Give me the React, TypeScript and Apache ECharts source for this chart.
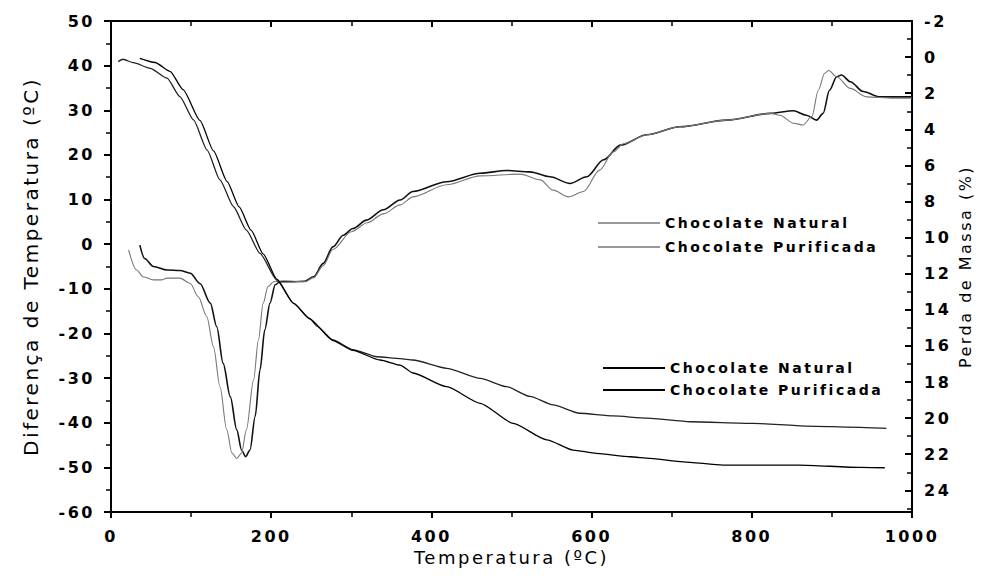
import React, { useEffect, useRef } from "react";
import * as echarts from "echarts";

// Temperature (°C) vs DTA signal (left axis, °C)
const dtaNatural: number[][] = [
  [36, -0.2], [42, -3.2], [53, -5.0], [70, -5.8], [86, -5.9], [99, -6.5], [111, -8.8],
  [124, -13.2], [132, -18.5], [140, -26.7], [149, -34.2], [157, -41.6], [163, -46.1],
  [168, -47.6], [173.5, -46.1], [180, -38.6], [186, -28.2], [192, -19.2], [198.5, -13.2],
  [205, -9.1], [211, -8.4], [227, -8.4], [242, -8.3], [253, -7.3], [265, -4.3], [277, -0.6],
  [290, 2.0], [302, 3.5], [319, 5.4], [340, 7.7], [361, 9.9], [377, 11.8], [419, 14.0],
  [461, 15.9], [494, 16.5], [523, 16.2], [548, 15.1], [573, 13.6], [594, 15.1], [615, 18.9],
  [636, 22.2], [669, 24.5], [710, 26.3], [769, 27.8], [823, 29.3], [852, 29.9], [868, 28.9],
  [881, 27.8], [889, 29.3], [897, 34.5], [906, 37.5], [912, 37.9], [923, 36.4], [939, 34.2],
  [960, 33.0], [1000, 33.0],
];

const dtaPurificada: number[][] = [
  [22, -1.3], [32, -5.8], [40, -7.3], [53, -8.0], [63, -8.0], [70, -7.6], [86, -7.6],
  [99, -8.8], [109, -11.8], [119.5, -16.2], [128, -23], [136, -31.9], [144.5, -41.6],
  [151, -46.8], [157, -48], [163, -46.8], [169, -41.6], [178, -30.4], [184, -21.5],
  [190, -13.2], [196, -9.5], [203, -8.4], [215, -8.2], [242, -8.4], [253, -7.5], [265, -4.8],
  [277, -1.2], [300, 2.8], [320, 4.8], [340, 6.8], [361, 8.8], [377, 10.6], [419, 13.3],
  [461, 15.3], [511, 15.7], [536, 14.4], [552, 12.1], [571, 10.6], [590, 11.8], [610, 16.6],
  [627, 20.7], [640, 22.5], [669, 24.5], [710, 26.3], [769, 27.8], [823, 29.3], [835, 28.9],
  [852, 27.1], [864, 26.7], [875, 28.6], [883, 34.5], [891, 38.3], [896, 38.9], [906, 37.5],
  [923, 34.9], [943, 33.0], [977, 32.7], [1000, 32.7],
];

// Temperature (°C) vs mass loss (right axis, %)
const tgNatural: number[][] = [
  [9, 0.25], [15, 0.12], [28, 0.31], [49, 0.62], [70, 1.17], [86, 2.19], [103, 3.48],
  [120, 5.15], [136, 6.8], [153, 8.29], [169, 9.58], [186, 10.87], [207, 12.35], [228, 13.64],
  [248, 14.47], [257, 14.9], [277, 15.67], [302, 16.2], [332, 16.6], [361, 16.7], [377, 16.78],
  [419, 17.24], [461, 17.8], [494, 18.26], [523, 18.8], [552, 19.27], [585, 19.73], [627, 19.88],
  [669, 20.0], [723, 20.2], [802, 20.29], [868, 20.44], [935, 20.51], [968, 20.57],
];

const tgPurificada: number[][] = [
  [36, 0.07], [55, 0.3], [74, 0.8], [90, 1.8], [111, 3.5], [128, 5.2], [145, 6.9], [160, 8.3],
  [175, 9.6], [190, 10.9], [207, 12.3], [228, 13.64], [248, 14.5], [277, 15.7], [302, 16.25],
  [336, 16.78], [361, 17.06], [377, 17.5], [419, 18.26], [461, 19.18], [502, 20.29], [544, 21.2],
  [577, 21.77], [606, 21.95], [648, 22.14], [673, 22.23], [714, 22.42], [764, 22.6], [860, 22.6],
  [935, 22.73], [966, 22.75],
];

const dtaLegendNames = ["DTA Chocolate Natural", "DTA Chocolate Purificada"];
const tgLegendNames = ["TG Chocolate Natural", "TG Chocolate Purificada"];

const FONT = "'DejaVu Sans', Arial, sans-serif";

export default function App() {
  const ref = useRef<HTMLDivElement>(null);
  useEffect(() => {
    if (!ref.current) return;
    const chart = echarts.init(ref.current, undefined, { renderer: "svg" });
    const axisLine = { show: true, onZero: false, lineStyle: { color: "#000", width: 2 } };
    const labelStyle = { color: "#000", fontFamily: FONT, fontSize: 16, fontWeight: "bold" as const };
    const legendText = { color: "#000", fontFamily: FONT, fontSize: 14, fontWeight: "bold" as const, lineHeight: 18 };
    const stripName = (n: string) => n.replace(/^(DTA|TG) /, "");
    const plain = (v: number) => String(v);
    chart.setOption({
      animation: false,
      backgroundColor: "#fff",
      grid: { left: 111, right: 83, top: 21, bottom: 76 },
      legend: [
        {
          data: dtaLegendNames,
          orient: "vertical",
          left: 593,
          top: 209,
          icon: "rect",
          itemWidth: 62,
          itemHeight: 1.5,
          itemGap: 6,
          selectedMode: false,
          formatter: stripName,
          itemStyle: { color: "#777" },
          textStyle: legendText,
        },
        {
          data: tgLegendNames,
          orient: "vertical",
          left: 598,
          top: 354,
          icon: "rect",
          itemWidth: 62,
          itemHeight: 1.8,
          itemGap: 4,
          selectedMode: false,
          formatter: stripName,
          itemStyle: { color: "#000" },
          textStyle: legendText,
        },
      ],
      xAxis: [
        {
          type: "value",
          position: "bottom",
          min: 0,
          max: 1000,
          interval: 200,
          name: "Temperatura (ºC)",
          nameLocation: "middle",
          nameGap: 35,
          nameTextStyle: { color: "#000", fontFamily: FONT, fontSize: 18 },
          axisLine,
          axisTick: { show: true, inside: false, length: 6, lineStyle: { color: "#000", width: 2 } },
          minorTick: { show: true, splitNumber: 2, length: 5, lineStyle: { color: "#000", width: 1.5 } },
          axisLabel: { ...labelStyle, margin: 16, formatter: plain },
          splitLine: { show: false },
        },
        {
          type: "value",
          position: "top",
          min: 0,
          max: 1000,
          interval: 200,
          axisLine,
          axisTick: { show: true, inside: true, length: 6, lineStyle: { color: "#000", width: 2 } },
          minorTick: { show: true, splitNumber: 2, length: 5, lineStyle: { color: "#000", width: 1.5 } },
          axisLabel: { show: false },
          splitLine: { show: false },
        },
      ],
      yAxis: [
        {
          type: "value",
          position: "left",
          min: -60,
          max: 50,
          interval: 10,
          name: "Diferença de Temperatura (ºC)",
          nameLocation: "middle",
          nameGap: 70,
          nameRotate: 90,
          nameTextStyle: { color: "#000", fontFamily: FONT, fontSize: 20 },
          axisLine,
          axisTick: { show: true, inside: false, length: 7, lineStyle: { color: "#000", width: 2 } },
          minorTick: { show: true, splitNumber: 2, length: 5, lineStyle: { color: "#000", width: 1.5 } },
          axisLabel: { ...labelStyle, margin: 16, formatter: plain },
          splitLine: { show: false },
        },
        {
          type: "value",
          position: "right",
          min: -2,
          max: 25.2,
          interval: 2,
          inverse: true,
          name: "Perda de Massa (%)",
          nameLocation: "middle",
          nameGap: 43,
          nameRotate: 90,
          nameTextStyle: { color: "#000", fontFamily: FONT, fontSize: 16 },
          axisLine,
          axisTick: { show: true, inside: true, length: 7, lineStyle: { color: "#000", width: 2 } },
          minorTick: { show: true, splitNumber: 2, length: 5, lineStyle: { color: "#000", width: 1.5 } },
          axisLabel: { ...labelStyle, margin: 12, showMaxLabel: false, formatter: plain },
          splitLine: { show: false },
        },
      ],
      series: [
        {
          name: dtaLegendNames[0],
          type: "line",
          xAxisIndex: 0,
          yAxisIndex: 0,
          data: dtaNatural,
          symbol: "none",
          smooth: 0.3,
          smoothMonotone: "x",
          lineStyle: { color: "#111", width: 1.6 },
          itemStyle: { color: "#111" },
        },
        {
          name: dtaLegendNames[1],
          type: "line",
          xAxisIndex: 0,
          yAxisIndex: 0,
          data: dtaPurificada,
          symbol: "none",
          smooth: 0.3,
          smoothMonotone: "x",
          lineStyle: { color: "#777", width: 1.1 },
          itemStyle: { color: "#777" },
        },
        {
          name: tgLegendNames[0],
          type: "line",
          xAxisIndex: 0,
          yAxisIndex: 1,
          data: tgNatural,
          symbol: "none",
          smooth: 0.2,
          smoothMonotone: "x",
          lineStyle: { color: "#222", width: 1.3 },
          itemStyle: { color: "#222" },
        },
        {
          name: tgLegendNames[1],
          type: "line",
          xAxisIndex: 0,
          yAxisIndex: 1,
          data: tgPurificada,
          symbol: "none",
          smooth: 0.2,
          smoothMonotone: "x",
          lineStyle: { color: "#000", width: 1.3 },
          itemStyle: { color: "#000" },
        },
      ],
    });
    return () => chart.dispose();
  }, []);
  return (
    <div
      ref={ref}
      style={{ width: 995, height: 588, position: "absolute", left: 0, top: 0, letterSpacing: "2.5px" }}
    />
  );
}
